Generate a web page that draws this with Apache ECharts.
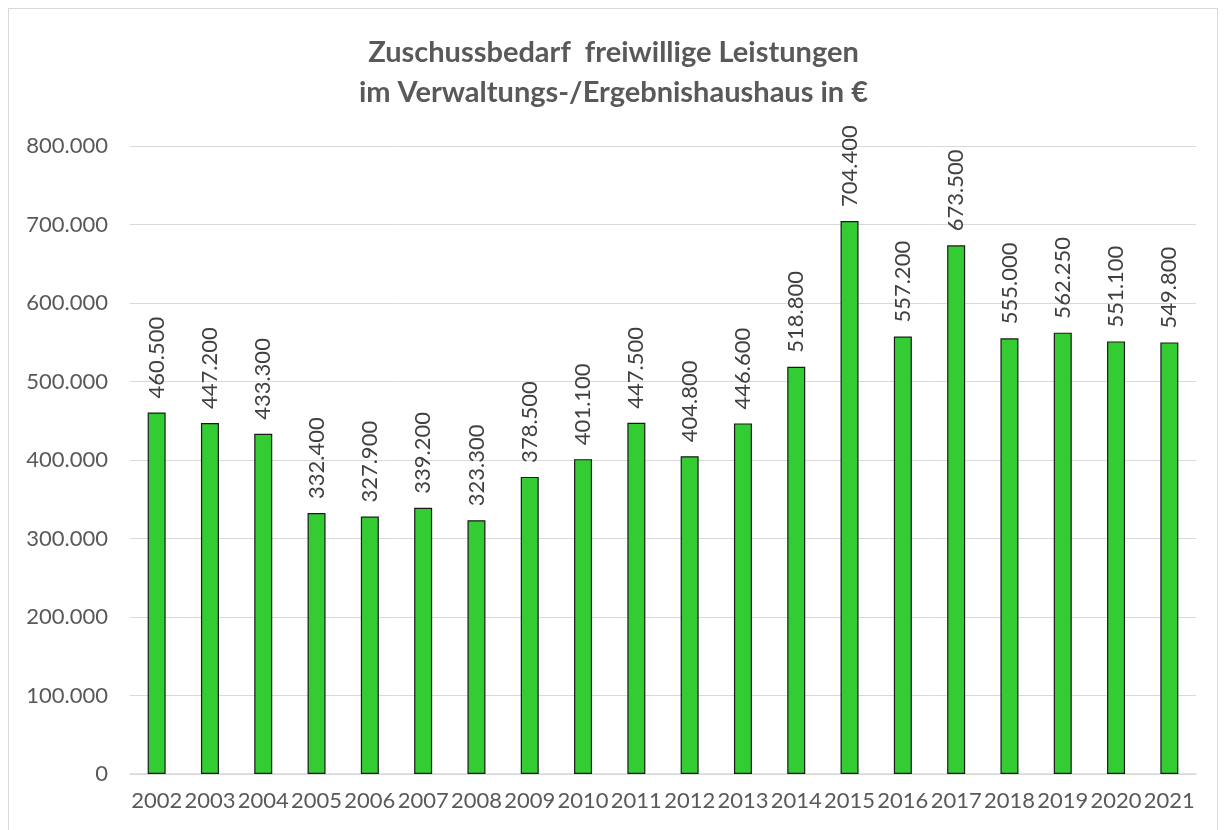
<html>
<head>
<meta charset="UTF-8">
<script src="https://cdn.jsdelivr.net/npm/echarts@6/dist/echarts.min.js"></script>
<style>
  body { margin:0; background:#fff; }
  #frame { position:absolute; left:8px; top:8px; width:1210px; height:830px; border:1px solid #d9d9d9; box-sizing:border-box; }
  #main { position:absolute; left:0; top:0; width:1227px; height:830px; }
</style>
</head>
<body>
<div id="frame"></div>
<div id="main"></div>
<script>
var years = ['2002','2003','2004','2005','2006','2007','2008','2009','2010','2011',
             '2012','2013','2014','2015','2016','2017','2018','2019','2020','2021'];
var zuschuss = [460500, 447200, 433300, 332400, 327900, 339200, 323300, 378500, 401100, 447500,
                404800, 446600, 518800, 704400, 557200, 673500, 555000, 562250, 551100, 549800];
var titleLines = ['Zuschussbedarf  freiwillige Leistungen', 'im Verwaltungs-/Ergebnishaushaus in €'];

function fmt(v) {
  return String(v).replace(/\B(?=(\d{3})+(?!\d))/g, '.');
}

var chart = echarts.init(document.getElementById('main'));
chart.setOption({
  animation: false,
  title: {
    text: titleLines.join('\n'),
    left: 'center',
    top: 28,
    textStyle: { fontFamily: 'Lato', fontWeight: 'bold', fontSize: 29, color: '#595959', lineHeight: 40 }
  },
  grid: { left: 130, right: 31, top: 146, bottom: 56 },
  xAxis: {
    type: 'category',
    data: years,
    axisLine: { lineStyle: { color: '#d9d9d9', width: 1.5 } },
    axisTick: { show: false },
    axisLabel: { color: '#595959', fontSize: 22, fontFamily: 'Lato', margin: 16, interval: 0 }
  },
  yAxis: {
    type: 'value',
    min: 0, max: 800000, interval: 100000,
    splitLine: { lineStyle: { color: '#d9d9d9', width: 1 } },
    axisLabel: { color: '#595959', fontSize: 22, fontFamily: 'Lato', margin: 22, formatter: fmt }
  },
  series: [{
    type: 'bar',
    data: zuschuss,
    barWidth: 18,
    itemStyle: { color: '#33cc33', borderColor: '#1a1a1a', borderWidth: 1.2 },
    label: {
      show: true,
      position: 'top',
      rotate: 90,
      align: 'left',
      verticalAlign: 'middle',
      distance: 14,
      color: '#404040',
      fontSize: 22,
      fontFamily: 'Lato',
      formatter: function (p) { return fmt(p.value); }
    }
  }]
});
</script>
</body>
</html>
